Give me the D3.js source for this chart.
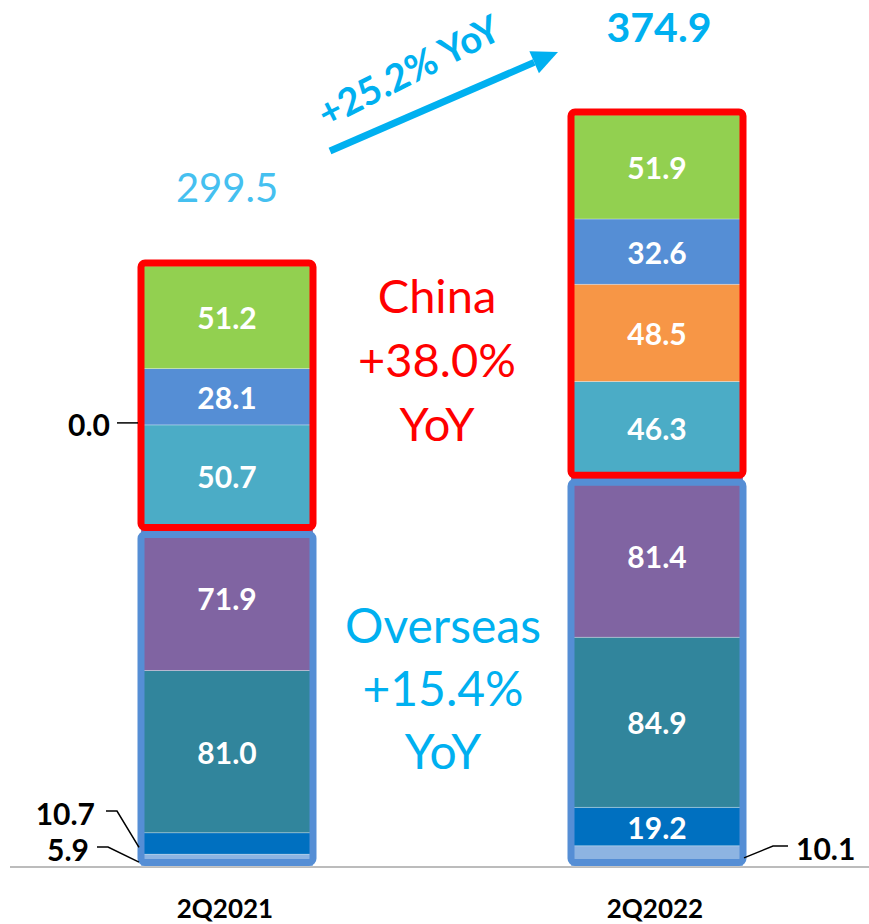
<!DOCTYPE html>
<html>
<head>
<script src="https://cdn.jsdelivr.net/npm/d3@7"></script>
<style type="text/css">
  body{
    margin: 0px;
    background: white;
    font-family: 'Lato', 'Noto Sans', sans-serif;
  }
  .segLabel{
    fill: white;
    font-weight: bold;
    font-size: 30px;
  }
  .sideLabel{
    fill: black;
    font-weight: bold;
    font-size: 30px;
  }
  .catLabel{
    fill: black;
    font-weight: bold;
    font-size: 26px;
  }
</style>
</head>
<body>
<svg id="chart" width="869" height="924"></svg>
<script>

var quarters = ["2Q2021", "2Q2022"];

// bottom to top: 4 overseas segments, then 4 china segments
var segKeys = ["o1", "o2", "o3", "o4", "c1", "c2", "c3", "c4"];
var segColors = ["#8DB4E2", "#0070C0", "#31859C", "#8064A2", "#4BACC6", "#F79646", "#558ED5", "#92D050"];

var values2021 = [5.9, 10.7, 81.0, 71.9, 50.7, 0.0, 28.1, 51.2];
var values2022 = [10.1, 19.2, 84.9, 81.4, 46.3, 48.5, 32.6, 51.9];

var totals = ["299.5", "374.9"];
var chinaText = ["China", "+38.0%", "YoY"];
var overseasText = ["Overseas", "+15.4%", "YoY"];
var growthText = "+25.2% YoY";

// segments that get a label outside the bar
var outsideKeys = [["o1", "o2", "c2"], ["o1"]];

var width = 869, height = 924;
var svg = d3.select("#chart");

var rows = quarters.map(function(q, i) {
  var vals = i === 0 ? values2021 : values2022;
  var row = { quarter: q };
  segKeys.forEach(function(k, j) { row[k] = vals[j]; });
  return row;
});

var stack = d3.stack().keys(segKeys);
var series = stack(rows);

var x = d3.scaleBand().domain(quarters).range([141, 743]).paddingInner(0.6).paddingOuter(0);
var y = d3.scaleLinear().domain([0, 374.9]).range([866, 115]);
var color = d3.scaleOrdinal().domain(segKeys).range(segColors);
var bw = x.bandwidth();

// baseline
svg.append("line")
  .attr("x1", 10).attr("x2", width)
  .attr("y1", y(0) + 1).attr("y2", y(0) + 1)
  .attr("stroke", "#A6A6A6").attr("stroke-width", 1.5);

// segments
svg.selectAll(".layer")
  .data(series)
  .enter()
  .append("g")
  .attr("class", "layer")
  .attr("fill", function(d) { return color(d.key); })
  .selectAll("rect")
  .data(function(d) { return d; })
  .enter()
  .append("rect")
  .attr("x", function(d) { return x(d.data.quarter); })
  .attr("width", bw)
  .attr("y", function(d) { return y(d[1]); })
  .attr("height", function(d) { return y(d[0]) - y(d[1]); })
  .attr("stroke", "rgba(255,255,255,0.35)")
  .attr("stroke-width", 0.8);

// region outlines
rows.forEach(function(r) {
  var overseas = r.o1 + r.o2 + r.o3 + r.o4;
  var total = overseas + r.c1 + r.c2 + r.c3 + r.c4;
  var x0 = x(r.quarter);

  svg.append("rect")
    .attr("x", x0).attr("width", bw)
    .attr("y", y(total) - 3)
    .attr("height", y(overseas) - y(total) + 4)
    .attr("rx", 4)
    .attr("fill", "none")
    .attr("stroke", "#FF0000")
    .attr("stroke-width", 7);

  svg.append("rect")
    .attr("x", x0).attr("width", bw)
    .attr("y", y(overseas) + 8)
    .attr("height", y(0) - 3.5 - (y(overseas) + 8))
    .attr("rx", 4)
    .attr("fill", "none")
    .attr("stroke", "#558ED5")
    .attr("stroke-width", 7);
});

// inside labels
series.forEach(function(s) {
  s.forEach(function(d, i) {
    if (outsideKeys[i].indexOf(s.key) >= 0) return;
    svg.append("text")
      .attr("class", "segLabel")
      .attr("x", x(d.data.quarter) + bw / 2)
      .attr("y", (y(d[0]) + y(d[1])) / 2)
      .attr("text-anchor", "middle")
      .attr("dominant-baseline", "central")
      .text(d3.format(".1f")(d.data[s.key]));
  });
});

// outside labels with leader lines
var left0 = x(quarters[0]) - 4;
var right1 = x(quarters[1]) + bw + 4;

function leader(pts) {
  svg.append("path")
    .attr("d", d3.line()(pts))
    .attr("fill", "none")
    .attr("stroke", "black")
    .attr("stroke-width", 1.5);
}
function sideLabel(txt, xx, yy, anchor) {
  svg.append("text")
    .attr("class", "sideLabel")
    .attr("x", xx).attr("y", yy)
    .attr("text-anchor", anchor)
    .attr("dominant-baseline", "central")
    .text(txt);
}

var c2mid = y(values2021.slice(0, 5).reduce(function(a, b) { return a + b; }, 0));
sideLabel(d3.format(".1f")(values2021[5]), 110, c2mid - 1, "end");
leader([[117, c2mid - 2], [left0 + 1, c2mid - 2]]);

sideLabel(d3.format(".1f")(values2021[1]), 95, 813, "end");
leader([[106, 811], [117, 811], [left0 + 2, y(values2021[0] + values2021[1] / 2) + 4]]);

sideLabel(d3.format(".1f")(values2021[0]), 89, 849, "end");
leader([[97, 847], [108, 847], [left0 + 2, y(values2021[0] / 2) + 2]]);

sideLabel(d3.format(".1f")(values2022[0]), 796, 848, "start");
leader([[right1 - 3, y(values2022[0] / 2) + 2], [773, 846], [788, 846]]);

// category labels
svg.selectAll(".catLabel")
  .data(quarters)
  .enter()
  .append("text")
  .attr("class", "catLabel")
  .attr("x", function(d) { return x(d) + bw / 2 - 2; })
  .attr("y", 918)
  .attr("text-anchor", "middle")
  .text(function(d) { return d; });

// totals
svg.append("text")
  .attr("x", x(quarters[0]) + bw / 2).attr("y", 202)
  .attr("text-anchor", "middle")
  .attr("font-size", 40)
  .attr("fill", "#45C0F0")
  .text(totals[0]);

svg.append("text")
  .attr("x", x(quarters[1]) + bw / 2 + 2).attr("y", 42)
  .attr("text-anchor", "middle")
  .attr("font-size", 41)
  .attr("font-weight", "bold")
  .attr("fill", "#00B0F0")
  .text(totals[1]);

// region annotations
chinaText.forEach(function(t, i) {
  svg.append("text")
    .attr("x", 437).attr("y", 313 + i * 64)
    .attr("text-anchor", "middle")
    .attr("font-size", 47)
    .attr("fill", "#FF0000")
    .text(t);
});
overseasText.forEach(function(t, i) {
  svg.append("text")
    .attr("x", 443).attr("y", 643 + i * 63)
    .attr("text-anchor", "middle")
    .attr("font-size", 48)
    .attr("fill", "#00B0F0")
    .text(t);
});

// growth arrow
var ax0 = 330, ay0 = 151, ax1 = 558, ay1 = 52;
var ang = Math.atan2(ay1 - ay0, ax1 - ax0);
var headLen = 26, headW = 12;
var bx = ax1 - headLen * Math.cos(ang), by = ay1 - headLen * Math.sin(ang);
svg.append("line")
  .attr("x1", ax0).attr("y1", ay0)
  .attr("x2", bx).attr("y2", by)
  .attr("stroke", "#00B0F0").attr("stroke-width", 7);
svg.append("path")
  .attr("d", d3.line()([
    [ax1, ay1],
    [bx + headW * Math.sin(ang), by - headW * Math.cos(ang)],
    [bx - headW * Math.sin(ang), by + headW * Math.cos(ang)]
  ]) + "Z")
  .attr("fill", "#00B0F0");

svg.append("text")
  .attr("transform", "translate(415,83) rotate(-27)")
  .attr("text-anchor", "middle")
  .attr("font-size", 38)
  .attr("font-weight", "bold")
  .attr("fill", "#00B0F0")
  .text(growthText);

</script>
</body>
</html>
